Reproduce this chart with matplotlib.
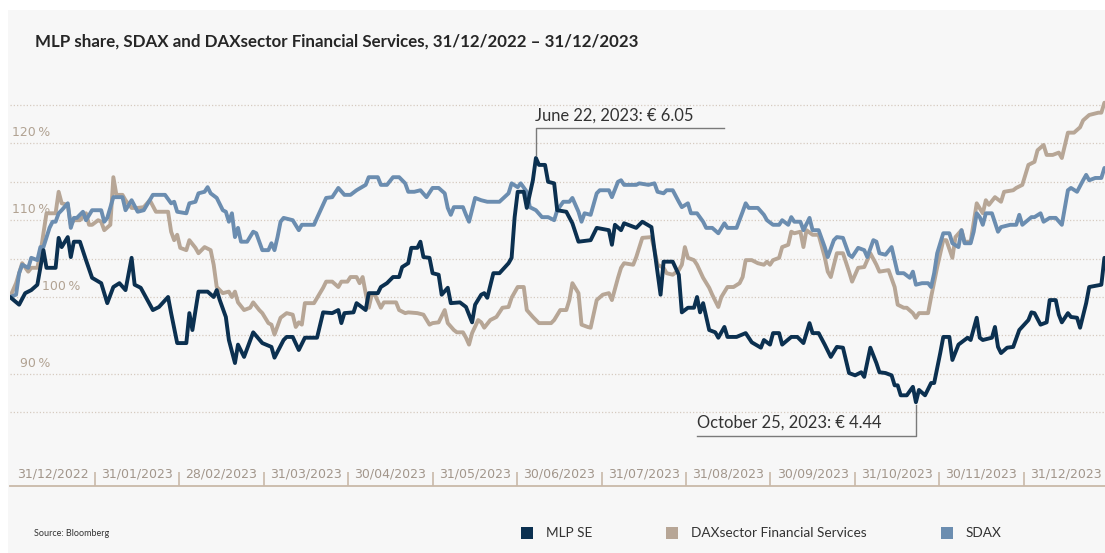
import numpy as np
import matplotlib.pyplot as plt
from matplotlib.patches import Rectangle
import matplotlib.transforms as mtransforms

plt.rcParams["font.family"] = ["Lato", "DejaVu Sans"]

# days since 31/12/2022, performance in % (31/12/2022 = 100 %)
mlp_days = [0, 3, 5, 7, 9, 11, 12, 15, 16, 17, 19, 20, 21, 23, 25, 27, 30, 32, 34, 36,
            38, 40, 41, 43, 47, 49, 52, 53, 55, 58, 59, 60, 62, 65, 67, 68, 69, 71, 72, 74,
            75, 77, 80, 83, 86, 87, 90, 91, 93, 95, 97, 101, 103, 106, 108, 109, 110, 113, 114, 117,
            118, 121, 122, 124, 126, 128, 129, 131, 132, 134, 135, 136, 138, 139, 141, 142, 144, 145, 148, 150,
            152, 153, 155, 156, 157, 159, 161, 164, 165, 166, 167, 169, 170, 172, 173, 174, 176, 177, 179, 180,
            183, 185, 187, 191, 193, 197, 198, 199, 201, 202, 206, 208, 211, 212, 214, 215, 218, 220, 221, 223,
            225, 226, 227, 228, 230, 232, 233, 235, 236, 239, 242, 244, 247, 248, 250, 251, 253, 254, 257, 259,
            261, 263, 264, 266, 268, 270, 272, 274, 276, 278, 280, 281, 283, 285, 286, 288, 290, 291, 292, 293,
            295, 297, 298, 299, 301, 303, 304, 306, 307, 309, 310, 312, 313, 315, 316, 318, 319, 320, 323, 324,
            325, 326, 328, 330, 332, 335, 336, 337, 339, 341, 342, 344, 345, 346, 348, 349, 351, 352, 354, 355,
            359, 360]
mlp_pct = [100.0, 99.0, 100.5, 100.9, 101.6, 106.1, 103.8, 103.8, 107.7, 106.5, 107.8, 105.2, 107.2, 107.2, 104.8, 102.5, 101.8, 99.2, 101.3, 101.8,
           100.9, 105.1, 101.6, 101.2, 98.3, 98.7, 100.0, 97.9, 94.0, 94.0, 97.9, 95.7, 100.7, 100.7, 100.0, 100.9, 99.6, 97.4, 94.4, 91.4,
           93.8, 92.2, 95.4, 94.0, 93.5, 92.1, 94.4, 94.8, 94.8, 93.1, 94.7, 94.7, 98.0, 97.9, 98.3, 96.6, 97.9, 98.0, 99.2, 98.3,
           100.5, 100.5, 101.3, 101.8, 102.6, 102.6, 103.9, 104.4, 106.4, 106.4, 107.2, 105.2, 105.1, 103.1, 102.9, 100.3, 101.2, 99.2, 99.3, 98.7,
           96.7, 99.0, 100.3, 100.5, 99.9, 103.1, 103.1, 104.4, 105.1, 110.4, 113.7, 113.7, 111.6, 115.2, 118.1, 117.2, 117.2, 115.0, 114.8, 111.3,
           111.1, 109.6, 107.2, 107.4, 109.0, 108.7, 106.8, 109.4, 108.7, 109.6, 109.0, 109.8, 109.1, 106.1, 100.3, 104.6, 104.6, 102.9, 98.0, 98.6,
           98.6, 100.0, 98.0, 99.2, 95.7, 95.4, 94.7, 96.1, 94.8, 94.8, 95.3, 94.1, 93.4, 94.4, 93.8, 95.3, 95.3, 93.8, 94.8, 94.8,
           94.0, 96.6, 95.3, 95.3, 93.8, 92.2, 93.5, 93.4, 90.1, 89.8, 90.2, 89.6, 93.4, 91.4, 90.2, 90.1, 89.8, 88.5, 88.5, 87.2,
           87.2, 88.3, 86.3, 87.9, 87.2, 88.8, 88.8, 92.7, 94.8, 94.8, 91.8, 93.8, 94.1, 94.7, 94.4, 97.3, 94.7, 94.4, 94.7, 96.1,
           93.5, 92.7, 93.4, 93.5, 95.7, 97.0, 98.0, 97.9, 96.4, 96.7, 99.6, 99.6, 97.7, 96.7, 97.9, 97.4, 97.3, 96.0, 99.2, 101.3,
           101.6, 105.1]

sdax_days = [0, 2, 3, 4, 6, 7, 9, 10, 11, 13, 14, 15, 16, 17, 19, 20, 21, 22, 24, 25,
             27, 30, 31, 32, 34, 37, 38, 40, 42, 44, 47, 51, 53, 54, 55, 58, 59, 61, 62, 64,
             65, 66, 68, 70, 71, 72, 73, 74, 75, 76, 78, 80, 81, 82, 83, 85, 86, 87, 88, 89,
             90, 93, 95, 96, 100, 101, 104, 106, 108, 110, 112, 114, 117, 118, 121, 122, 124, 126, 128, 130,
             131, 133, 135, 137, 139, 141, 143, 144, 145, 146, 149, 150, 151, 153, 155, 157, 161, 164, 165, 167,
             168, 170, 171, 173, 175, 177, 179, 180, 182, 184, 185, 187, 188, 189, 191, 193, 194, 197, 198, 200,
             201, 202, 206, 207, 210, 212, 213, 215, 216, 218, 220, 221, 223, 224, 226, 228, 229, 231, 233, 235,
             236, 239, 241, 242, 243, 246, 248, 249, 251, 253, 254, 256, 257, 258, 260, 261, 263, 264, 266, 268,
             269, 271, 272, 274, 276, 277, 279, 281, 282, 284, 285, 286, 288, 290, 291, 292, 294, 296, 297, 298,
             300, 302, 303, 304, 305, 307, 309, 310, 312, 313, 314, 316, 317, 318, 319, 320, 321, 323, 325, 326,
             329, 331, 332, 333, 336, 337, 339, 340, 342, 344, 346, 348, 349, 351, 353, 354, 355, 357, 359, 360]
sdax_pct = [100.0, 100.3, 103.1, 104.2, 103.8, 105.1, 104.8, 106.5, 106.5, 109.0, 109.8, 109.8, 110.9, 111.3, 112.2, 109.0, 110.3, 110.3, 111.1, 110.0,
            111.3, 111.3, 109.8, 110.3, 113.0, 113.0, 111.3, 112.6, 111.1, 111.3, 113.3, 113.3, 112.2, 112.4, 111.1, 110.9, 112.2, 112.4, 113.5, 113.7,
            114.3, 113.5, 112.9, 111.3, 111.1, 109.8, 110.9, 107.8, 109.0, 107.2, 107.2, 108.5, 108.3, 107.2, 106.1, 106.1, 107.0, 106.1, 107.8, 109.8,
            110.3, 110.0, 108.7, 109.4, 109.4, 110.3, 112.9, 113.0, 114.2, 113.3, 113.3, 113.9, 114.6, 115.6, 115.6, 114.6, 114.6, 115.6, 115.6, 114.8,
            113.7, 113.7, 113.9, 113.0, 114.2, 114.2, 113.5, 111.6, 110.7, 111.7, 111.7, 110.7, 109.8, 112.9, 112.6, 112.4, 112.4, 113.5, 114.8, 114.3,
            114.8, 113.7, 111.7, 111.3, 110.4, 110.4, 110.0, 111.3, 112.4, 112.4, 112.9, 111.1, 109.8, 110.9, 110.7, 113.5, 113.9, 113.9, 113.0, 115.0,
            115.2, 114.6, 114.6, 114.8, 114.6, 114.8, 113.7, 113.5, 113.9, 113.9, 112.4, 111.7, 112.2, 110.9, 110.9, 109.8, 109.0, 109.0, 108.3, 109.6,
            109.0, 109.0, 111.1, 112.2, 111.6, 111.6, 110.7, 110.0, 109.4, 109.4, 110.0, 109.4, 110.4, 109.8, 109.8, 108.7, 110.3, 108.7, 108.7, 106.5,
            105.2, 107.4, 107.8, 107.7, 105.5, 105.2, 106.4, 106.1, 105.2, 107.4, 107.2, 105.7, 105.5, 106.5, 104.8, 103.1, 103.1, 102.5, 103.3, 101.6,
            101.8, 101.8, 101.3, 103.1, 105.7, 108.3, 108.3, 107.0, 106.5, 108.7, 107.0, 107.0, 108.5, 110.9, 110.4, 109.4, 110.9, 110.9, 108.5, 109.1,
            109.4, 109.4, 110.7, 109.4, 110.4, 110.4, 110.9, 109.8, 110.3, 110.3, 109.4, 113.9, 114.2, 113.7, 115.2, 115.9, 115.2, 115.5, 115.5, 116.8]

dax_days = [0, 2, 4, 6, 7, 9, 10, 12, 15, 16, 17, 19, 20, 21, 23, 25, 26, 27, 29, 30,
            31, 33, 34, 35, 37, 38, 40, 42, 44, 46, 48, 52, 53, 54, 55, 56, 58, 59, 61, 62,
            63, 64, 66, 67, 68, 70, 72, 73, 74, 75, 77, 79, 80, 82, 83, 85, 86, 87, 89, 91,
            93, 94, 95, 96, 97, 100, 103, 104, 106, 108, 109, 111, 112, 114, 115, 116, 117, 118, 119, 120,
            122, 123, 127, 128, 130, 131, 134, 136, 138, 139, 141, 143, 144, 146, 147, 149, 150, 151, 152, 154,
            155, 156, 158, 160, 162, 164, 165, 167, 169, 170, 172, 174, 178, 179, 181, 183, 184, 185, 187, 188,
            190, 191, 193, 195, 197, 198, 200, 201, 202, 205, 206, 208, 211, 212, 213, 215, 216, 218, 220, 221,
            222, 223, 225, 226, 228, 230, 231, 233, 234, 236, 238, 240, 241, 242, 244, 246, 248, 249, 250, 251,
            253, 254, 256, 257, 258, 260, 261, 262, 264, 266, 268, 269, 270, 272, 274, 276, 277, 279, 281, 283,
            285, 286, 289, 291, 292, 294, 295, 297, 298, 299, 302, 303, 305, 307, 308, 310, 311, 313, 314, 316,
            318, 320, 321, 322, 324, 326, 327, 330, 331, 333, 335, 337, 338, 340, 341, 343, 345, 346, 348, 350,
            352, 353, 355, 358, 359, 360]
dax_pct = [100.0, 101.8, 104.4, 103.3, 103.8, 103.8, 105.7, 110.9, 110.9, 113.7, 112.2, 112.0, 109.4, 110.0, 110.0, 110.9, 109.4, 109.4, 110.0, 109.8,
           108.7, 109.4, 115.6, 113.3, 113.3, 112.6, 111.6, 111.6, 111.7, 112.6, 111.1, 111.1, 108.5, 107.4, 108.1, 106.4, 106.1, 107.4, 106.4, 105.7,
           106.1, 106.5, 106.1, 104.2, 101.3, 100.5, 100.7, 100.0, 100.7, 99.3, 98.3, 98.6, 99.3, 98.3, 97.9, 96.6, 96.4, 95.1, 97.3, 97.9,
           97.7, 96.1, 96.7, 96.4, 99.2, 99.2, 101.2, 102.0, 102.0, 101.3, 102.0, 102.0, 102.6, 102.6, 101.8, 102.6, 100.5, 98.6, 100.3, 100.3,
           98.6, 99.3, 99.3, 98.3, 97.9, 98.0, 97.9, 97.7, 96.4, 96.6, 96.7, 98.3, 96.6, 95.7, 95.4, 95.4, 94.7, 93.8, 95.3, 97.0,
           96.7, 96.0, 97.0, 97.4, 98.6, 98.7, 99.9, 101.3, 101.3, 98.3, 97.4, 96.6, 96.6, 97.0, 98.3, 98.3, 99.6, 101.8, 100.5, 96.4,
           96.1, 96.0, 99.6, 100.3, 100.5, 99.6, 102.5, 103.8, 104.4, 104.2, 105.2, 107.7, 107.8, 106.1, 104.2, 103.8, 103.1, 102.9, 103.5, 104.2,
           106.5, 105.1, 104.8, 104.2, 102.5, 101.2, 100.3, 98.7, 100.0, 101.3, 101.3, 101.8, 102.6, 104.8, 104.8, 104.4, 104.2, 104.6, 104.2, 104.8,
           105.1, 106.5, 106.8, 108.5, 108.3, 108.5, 106.5, 108.7, 108.1, 108.1, 105.2, 103.3, 102.6, 105.7, 105.7, 103.3, 102.0, 103.8, 103.9, 105.7,
           104.2, 103.3, 103.5, 101.3, 99.0, 98.6, 98.6, 97.9, 97.3, 97.9, 97.9, 100.0, 103.9, 107.4, 107.4, 105.1, 107.8, 108.7, 107.2, 107.2,
           112.2, 110.9, 112.6, 112.0, 113.0, 112.4, 113.7, 113.9, 114.2, 114.6, 117.2, 117.6, 119.1, 119.8, 118.5, 118.5, 118.8, 118.1, 121.4, 121.4,
           122.1, 123.0, 123.7, 124.0, 124.0, 125.3]

series = [
    ("DAXsector Financial Services", dax_days, dax_pct, "#b7a696"),
    ("SDAX", sdax_days, sdax_pct, "#6b8db0"),
    ("MLP SE", mlp_days, mlp_pct, "#0b3050"),
]
legend_order = ["MLP SE", "DAXsector Financial Services", "SDAX"]

date_labels = ["31/12/2022", "31/01/2023", "28/02/2023", "31/03/2023", "30/04/2023",
               "31/05/2023", "30/06/2023", "31/07/2023", "31/08/2023", "30/09/2023",
               "31/10/2023", "30/11/2023", "31/12/2023"]
grid_levels = [85, 90, 95, 100, 105, 110, 115, 120, 125]
pct_labels = [120, 110, 100, 90]

title = "MLP share, SDAX and DAXsector Financial Services, 31/12/2022 \u2013 31/12/2023"
peak_text = "June 22, 2023: \u20ac 6.05"
low_text = "October 25, 2023: \u20ac 4.44"

W, H = 1105, 553
fig = plt.figure(figsize=(W / 100, H / 100), dpi=100)
fig.patches.append(Rectangle((8 / W, 0), 1, 1 - 10 / H, transform=fig.transFigure,
                             facecolor="#f7f7f7", edgecolor="none", zorder=-10))

ax = fig.add_axes([10 / W, (H - 486) / H, 1095 / W, 391 / H])
ax.set_facecolor("none")
ax.set_xlim(0, 1095 / 3.04)
ax.set_ylim(100 - 189 / 7.68, 100 + 202 / 7.68)
for s in ["top", "left", "right"]:
    ax.spines[s].set_visible(False)
ax.spines["bottom"].set_color("#c9b9a9")
ax.spines["bottom"].set_linewidth(1.3)
ax.set_yticks([])

for g in grid_levels:
    ax.axhline(g, color="#d6cbc0", lw=0.9, ls=(0, (1, 1.6)), zorder=1)

for name, d, p, c in series:
    ax.plot(d, p, color=c, lw=2.8, solid_joinstyle="round", solid_capstyle="round", zorder=3)

# y labels, a little above their gridline
up = mtransforms.offset_copy(ax.get_yaxis_transform(), fig=fig, x=0, y=10.5, units="dots")
for v in pct_labels:
    xr = 0.064 if v == 100 else 0.0365
    ax.text(xr, v, f"{v}\u2009%", transform=up, ha="right", va="center",
            fontsize=9, color="#b1a292", family=["DejaVu Sans"])

# date labels with separators
xmax = ax.get_xlim()[1]
slot = 0.0771
bounds = [(0.0776 + k * slot) * xmax for k in range(len(date_labels) - 1)]
ax.set_xticks(bounds)
ax.set_xticklabels([])
ax.tick_params(axis="x", direction="in", length=10, width=1.2, color="#c9b9a9")
for k, lab in enumerate(date_labels):
    ax.text(0.039 + k * slot, 12 / 391, lab, transform=ax.transAxes, ha="center",
            va="center", fontsize=9, color="#a2968b", family=["DejaVu Sans"])

# annotations
mp = np.array(mlp_pct)
i_hi, i_lo = int(mp.argmax()), int(mp.argmin())
hx, hy = mlp_days[i_hi], mlp_pct[i_hi]
ax.plot([hx, hx, hx + 62], [hy + 0.4, hy + 3.9, hy + 3.9], color="#7a7a7a", lw=1.0, zorder=4)
ax.annotate(peak_text, (hx, hy + 3.9), xytext=(-1, 5), textcoords="offset points",
            ha="left", va="baseline", fontsize=11.9, color="#333333")
lx, ly = mlp_days[i_lo], mlp_pct[i_lo]
ax.plot([lx, lx, lx - 72], [ly - 0.3, ly - 4.4, ly - 4.4], color="#7a7a7a", lw=1.0, zorder=4)
ax.annotate(low_text, (lx - 72, ly - 4.4), xytext=(0, 6), textcoords="offset points",
            ha="left", va="baseline", fontsize=11.9, color="#333333")

# title, source and legend
fig.text(35 / W, 1 - 42 / H, title, ha="left", va="center", fontsize=12.2,
         fontweight="bold", color="#262626")
fig.text(34 / W, 1 - 534 / H, "Source: Bloomberg", ha="left", va="center",
         fontsize=6.5, color="#333333")
colors = {name: c for name, d, p, c in series}
leg_x = [521, 666, 941]
for lx_px, name in zip(leg_x, legend_order):
    fig.patches.append(Rectangle((lx_px / W, 1 - 539 / H), 12 / W, 12 / H,
                                 transform=fig.transFigure, facecolor=colors[name],
                                 edgecolor="none"))
    fig.text((lx_px + 25) / W, 1 - 533 / H, name, ha="left", va="center",
             fontsize=9.8, color="#333333")

fig.savefig("out.png", dpi=100)
